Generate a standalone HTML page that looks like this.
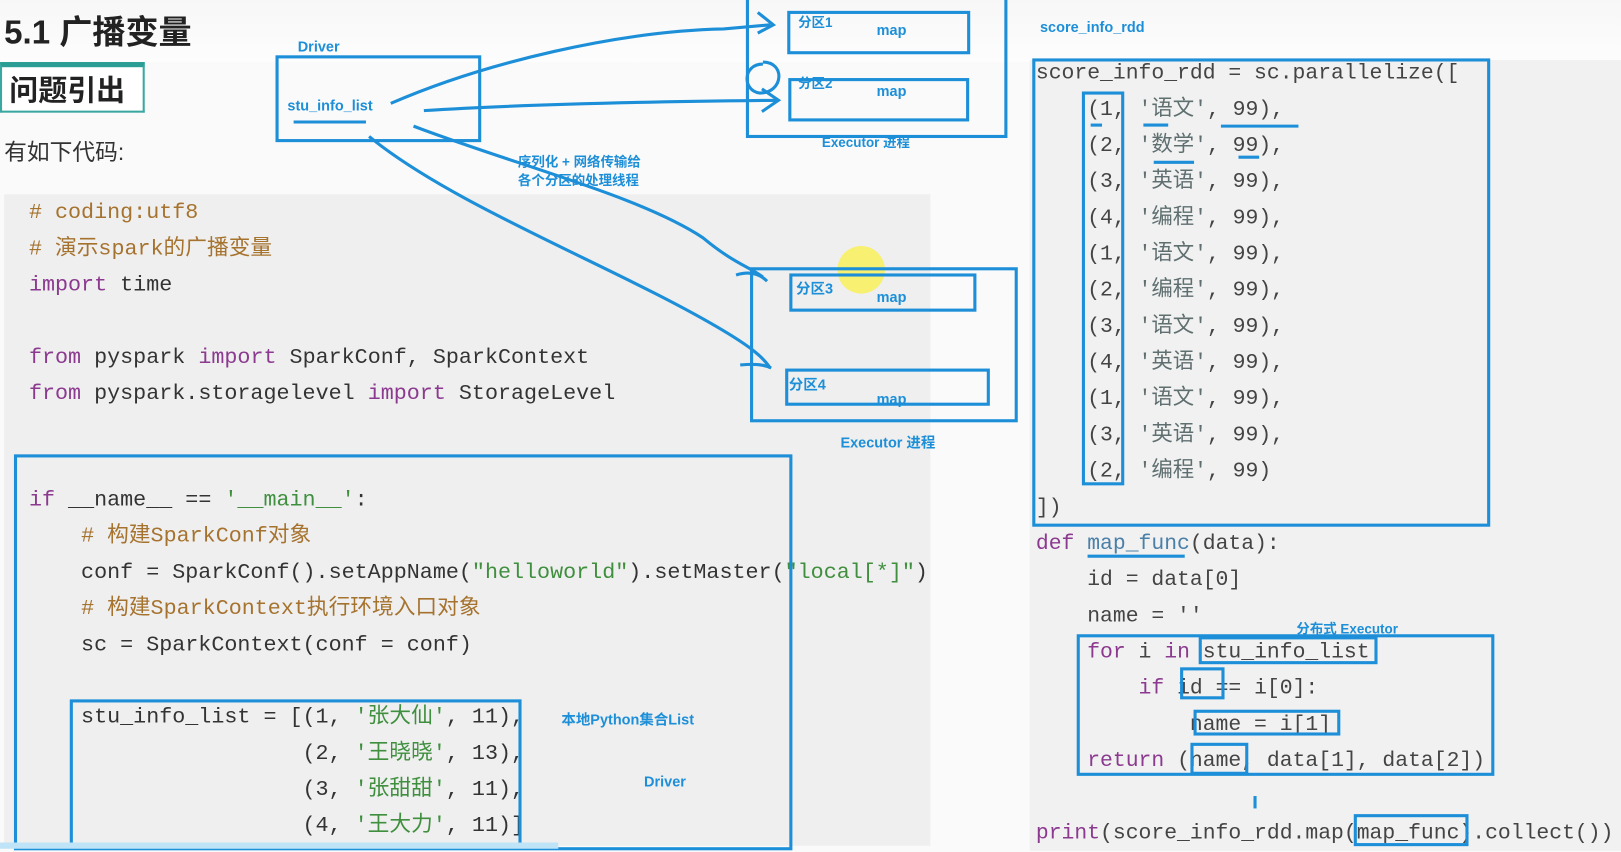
<!DOCTYPE html>
<html><head><meta charset="utf-8"><style>
body{margin:0;width:1621px;height:852px;overflow:hidden;background:#fafafa;position:relative;font-family:"Liberation Sans","Noto Sans CJK SC",sans-serif}
#w{position:absolute;left:0;top:0;width:1568px;height:824px;transform:scale(1.0338);transform-origin:0 0}
.a{position:absolute;white-space:pre}
.c{font-family:"Liberation Mono","Noto Sans CJK SC",monospace;font-size:21px;color:#333;line-height:35px}
.r{font-family:"Liberation Mono","Noto Sans CJK SC",monospace;font-size:20.7px;color:#444;line-height:35px}
.cm{color:#a6732f}.kw{color:#8b3a8f}.st{color:#3f8f3f}.fn{color:#4a7fa8}.sg{color:#5f6f70}.bl{color:#1d8fd8;font-weight:bold}
</style></head><body><div id="w">
<div class="a" style="left:0;top:0;width:1568px;height:60px;background:linear-gradient(#f7f7f7,#fdfdfd)"></div>
<div class="a" style="left:4px;top:188px;width:896px;height:630px;background:#efefef"></div>
<div class="a" style="left:996px;top:58px;width:572px;height:765px;background:#f1f1f1"></div>
<div class="a" style="left:4px;top:6px;font-size:32px;font-weight:bold;color:#222">5.1 广播变量</div>
<div class="a" style="left:0;top:60px;width:136px;height:42px;border:2px solid #3aa8a0;border-top:5px solid #2a9e94;background:#fff"></div>
<div class="a" style="left:9px;top:66px;font-size:28px;font-weight:bold;color:#222">问题引出</div>
<div class="a" style="left:4px;top:130px;font-size:22px;color:#333">有如下代码:</div>

<div class="a c" style="left:28px;top:189px"><span class="cm"># coding:utf8
# 演示spark的广播变量</span>
<span class="kw">import</span> time

<span class="kw">from</span> pyspark <span class="kw">import</span> SparkConf, SparkContext
<span class="kw">from</span> pyspark.storagelevel <span class="kw">import</span> StorageLevel</div>
<div class="a c" style="left:28px;top:467px"><span class="kw">if</span> __name__ == <span class="st">'__main__'</span>:
    <span class="cm"># 构建SparkConf对象</span>
    conf = SparkConf().setAppName(<span class="st">"helloworld"</span>).setMaster(<span class="st">"local[*]"</span>)
    <span class="cm"># 构建SparkContext执行环境入口对象</span>
    sc = SparkContext(conf = conf)

    stu_info_list = [(1, <span class="st">'张大仙'</span>, 11),
                     (2, <span class="st">'王晓晓'</span>, 13),
                     (3, <span class="st">'张甜甜'</span>, 11),
                     (4, <span class="st">'王大力'</span>, 11)]</div>

<div class="a r" style="left:1002px;top:54px">score_info_rdd = sc.parallelize([
    (1, <span class="sg">'语文'</span>, 99),
    (2, <span class="sg">'数学'</span>, 99),
    (3, <span class="sg">'英语'</span>, 99),
    (4, <span class="sg">'编程'</span>, 99),
    (1, <span class="sg">'语文'</span>, 99),
    (2, <span class="sg">'编程'</span>, 99),
    (3, <span class="sg">'语文'</span>, 99),
    (4, <span class="sg">'英语'</span>, 99),
    (1, <span class="sg">'语文'</span>, 99),
    (3, <span class="sg">'英语'</span>, 99),
    (2, <span class="sg">'编程'</span>, 99)
])
<span class="kw">def</span> <span class="fn">map_func</span>(data):
    id = data[0]
    name = ''
    <span class="kw">for</span> i <span class="kw">in</span> stu_info_list:
        <span class="kw">if</span> id == i[0]:
            name = i[1]
    <span class="kw">return</span> (name, data[1], data[2])

<span class="kw">print</span>(score_info_rdd.map(map_func).collect())</div>

<div class="a bl" style="left:288px;top:37px;font-size:14px">Driver</div>
<div class="a bl" style="left:278px;top:94px;font-size:14px">stu_info_list</div>
<div class="a bl" style="left:772px;top:11px;font-size:13px">分区1</div>
<div class="a bl" style="left:848px;top:21px;font-size:14px">map</div>
<div class="a bl" style="left:772px;top:70px;font-size:13px">分区2</div>
<div class="a bl" style="left:848px;top:80px;font-size:14px">map</div>
<div class="a bl" style="left:795px;top:127px;font-size:13px">Executor 进程</div>
<div class="a bl" style="left:501px;top:148px;font-size:13px;line-height:18px">序列化 + 网络传输给
各个分区的处理线程</div>
<div class="a bl" style="left:770px;top:269px;font-size:14px">分区3</div>
<div class="a bl" style="left:848px;top:279px;font-size:14px">map</div>
<div class="a bl" style="left:763px;top:362px;font-size:14px">分区4</div>
<div class="a bl" style="left:848px;top:378px;font-size:14px">map</div>
<div class="a bl" style="left:813px;top:418px;font-size:14px">Executor 进程</div>
<div class="a bl" style="left:1006px;top:18px;font-size:14px">score_info_rdd</div>
<div class="a bl" style="left:543px;top:686px;font-size:14px">本地Python集合List</div>
<div class="a bl" style="left:623px;top:748px;font-size:14px">Driver</div>
<div class="a bl" style="left:1254px;top:598px;font-size:13px">分布式 Executor</div>
<div class="a" style="left:810px;top:238px;width:46px;height:46px;border-radius:50%;background:rgba(250,240,80,0.8)"></div>

<svg class="a" style="left:0;top:0" width="1568" height="824" fill="none" stroke="#1d8fd8" stroke-width="3">
<rect x="268" y="55" width="196" height="81"/>
<line x1="284" y1="118" x2="354" y2="118"/>
<rect x="723" y="-5" width="250" height="137"/>
<rect x="763" y="12" width="174" height="39"/>
<rect x="764" y="77" width="172" height="39"/>
<rect x="727" y="260" width="256" height="147"/>
<rect x="765" y="266" width="178" height="34"/>
<rect x="761" y="358" width="195" height="33"/>
<rect x="15" y="441" width="750" height="380"/>
<rect x="69" y="678" width="434" height="140"/>
<rect x="1000" y="58" width="440" height="450"/>
<rect x="1048" y="90" width="38" height="378"/>
<rect x="1043" y="615" width="401" height="134"/>
<rect x="1161" y="617" width="170" height="24"/>
<rect x="1143" y="647" width="40" height="28"/>
<rect x="1156" y="688" width="139" height="22"/>
<rect x="1153" y="720" width="53" height="28"/>
<rect x="1311" y="789" width="108" height="28"/>
<line x1="1181" y1="122" x2="1256" y2="122"/>
<line x1="1055" y1="121" x2="1066" y2="121"/><line x1="1106" y1="121" x2="1130" y2="121"/>
<line x1="1116" y1="157" x2="1155" y2="157"/><line x1="1198" y1="152" x2="1218" y2="152"/>
<line x1="1052" y1="538" x2="1146" y2="538"/>
<line x1="1214" y1="770" x2="1214" y2="782"/>
<path d="M378 100 C470 60 600 30 700 28 L745 24"/>
<path d="M733 12 L748 24 L733 32"/>
<path d="M410 107 C520 100 650 98 752 97"/>
<path d="M737 86 L753 97 L737 108"/>
<path d="M738 62 C718 62 718 88 735 90 C758 90 760 60 738 60"/>
<path d="M400 122 C500 160 620 190 680 230 C710 255 725 258 738 268"/>
<path d="M712 266 C725 262 735 265 742 272"/>
<path d="M357 132 C440 200 600 260 700 320 C725 335 738 345 745 356"/>
<path d="M716 353 C728 352 738 352 746 356"/>
<line x1="0" y1="818" x2="540" y2="818" stroke="#bfe3f7" stroke-width="6"/>
</svg>
</div></body></html>
